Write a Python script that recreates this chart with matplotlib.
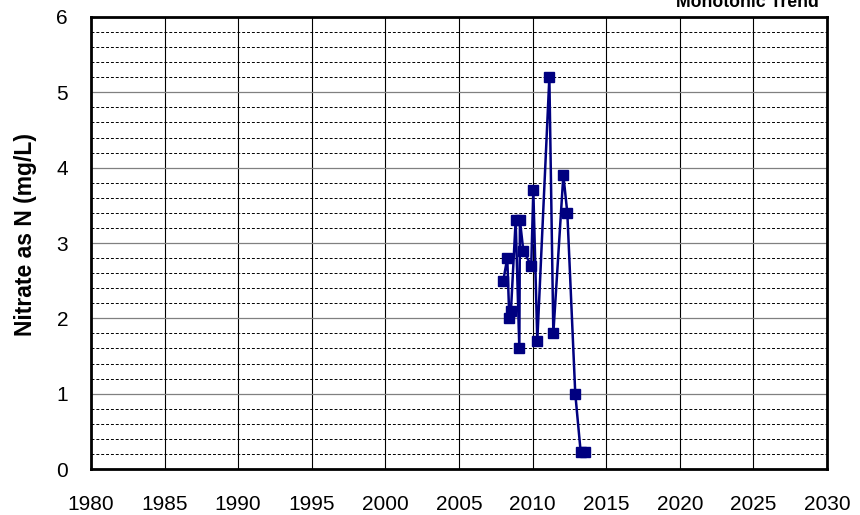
import matplotlib.pyplot as plt
from matplotlib.ticker import MultipleLocator

plt.rcParams['font.family'] = ['Liberation Sans', 'DejaVu Sans']

# --- Dados (ano decimal, nitrato como N em mg/L)
anos = [2008.01, 2008.28, 2008.42, 2008.53, 2008.85, 2009.10, 2009.14, 2009.37,
        2009.91, 2010.05, 2010.32, 2011.14, 2011.41, 2012.09, 2012.36, 2012.90,
        2013.27, 2013.58]
nitrato = [2.5, 2.8, 2.0, 2.1, 3.3, 1.6, 3.3, 2.9,
           2.7, 3.7, 1.7, 5.2, 1.8, 3.9, 3.4, 1.0,
           0.22, 0.22]

fig = plt.figure(figsize=(8.6, 5.15), dpi=100)
ax = fig.add_axes([0.1058, 0.0893, 0.8558, 0.8777])

ax.plot(anos, nitrato, color='#000080', lw=1.8, marker='s', ms=7,
        mfc='#000080', mec='#000080', zorder=3)

ax.set_xlim(1980, 2030)
ax.set_ylim(0, 6)
ax.xaxis.set_major_locator(MultipleLocator(5))
ax.yaxis.set_major_locator(MultipleLocator(1))
ax.yaxis.set_minor_locator(MultipleLocator(0.2))

# Grade: verticais solidas, horizontais maiores solidas e menores tracejadas
ax.grid(axis='x', which='major', color='black', lw=0.8, ls='-')
ax.grid(axis='y', which='major', color='#808080', lw=0.9, ls='-')
ax.grid(axis='y', which='minor', color='black', lw=0.7, ls=(0, (3, 2)))
ax.set_axisbelow(True)

for s in ax.spines.values():
    s.set_linewidth(2)
    s.set_color('black')

ax.tick_params(axis='both', which='both', length=0, labelsize=15)
ax.tick_params(axis='x', pad=19)
ax.tick_params(axis='y', pad=16.5)

# Rotulo do eixo y posicionado na figura
fig.text(26 / 860, 1 - 234.5 / 515, 'Nitrate as N (mg/L)', rotation=90,
         ha='center', va='center', fontsize=16.5, fontweight='bold')

# Titulo cortado no topo da figura
fig.text(0.869, 1 - 7 / 515, 'Monotonic Trend', ha='center', va='baseline',
         fontsize=12.7, fontweight='bold')

fig.savefig('out.png', dpi=100)
